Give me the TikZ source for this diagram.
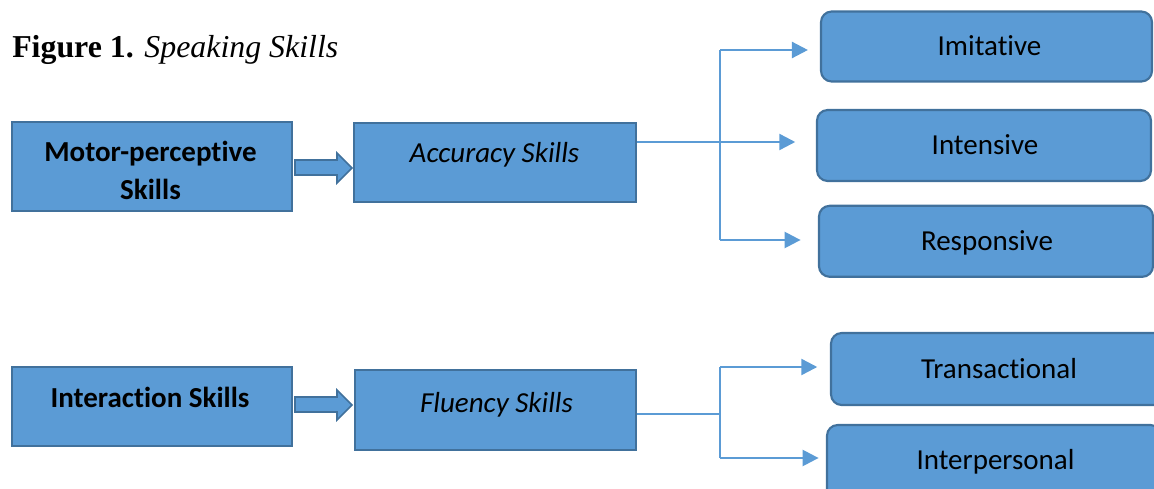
\documentclass[tikz,border=0pt]{standalone}
\usepackage{fontspec}
\setmainfont[Ligatures={NoCommon}]{Carlito}
\newfontfamily\timesf{Liberation Serif}
\usetikzlibrary{arrows.meta}
\definecolor{boxfill}{HTML}{5B9BD5}
\definecolor{boxline}{HTML}{41719C}
\begin{document}
\begin{tikzpicture}[x=0.75pt,y=-0.75pt,
 sqbox/.style={draw=boxline,fill=boxfill,line width=1.6pt,inner sep=0pt},
 rbox/.style={sqbox,rounded corners=8pt},
 lab/.style={font=\fontsize{21.75}{28.5}\selectfont,text=black,align=center,inner sep=0pt,text height=14pt,text depth=0pt},
 conn/.style={draw=boxfill,line width=1.8pt},
 tip/.style={-{Triangle[length=12pt,width=12pt]}},
 blockarrow/.style={draw=boxline,fill=boxfill,line width=1.2pt,line join=miter}]
\useasboundingbox (0,0) rectangle (1154,489);
\clip (0,0) rectangle (1154,489);

% title
\node[anchor=base west,inner sep=0pt,font=\timesf\fontsize{23.9}{28}\selectfont] (title) at (12,57) {\textbf{Figure 1.} \textit{Speaking Skills}};

% left boxes
\node[sqbox,minimum width=280*0.75pt,minimum height=89*0.75pt] (motor) at (152,166.5) {};
\node[lab,font=\fontsize{21.75}{28.5}\selectfont\bfseries,anchor=north,text height=42.5pt] (motorT) at (150.5,143) {Motor-perceptive\\Skills};
\node[sqbox,minimum width=282*0.75pt,minimum height=79*0.75pt] (acc) at (495,162.5) {};
\node[lab,font=\fontsize{21.75}{28.5}\selectfont\itshape] (accT) at (494.5,153) {Accuracy Skills};

\node[sqbox,minimum width=280*0.75pt,minimum height=79*0.75pt] (inter) at (152,406.5) {};
\node[lab,font=\fontsize{21.75}{28.5}\selectfont\bfseries] (interT) at (150,398) {Interaction Skills};
\node[sqbox,minimum width=281*0.75pt,minimum height=80*0.75pt] (flu) at (495.5,410) {};
\node[lab,font=\fontsize{21.75}{28.5}\selectfont\itshape] (fluT) at (496.5,403) {Fluency Skills};

% block arrows
\draw[blockarrow] (295,160) -- (337,160) -- (337,153) -- (352,168) -- (337,183) -- (337,175) -- (295,175) -- cycle;
\draw[blockarrow] (295,397) -- (337,397) -- (337,390) -- (352,405) -- (337,420) -- (337,412) -- (295,412) -- cycle;

% right boxes
\node[rbox,minimum width=331*0.75pt,minimum height=70*0.75pt] (imit) at (986.5,46.5) {};
\node[lab] (imitT) at (989.5,46) {Imitative};
\node[rbox,minimum width=334*0.75pt,minimum height=71*0.75pt] (inten) at (984,145.5) {};
\node[lab] (intenT) at (985,145) {Intensive};
\node[rbox,minimum width=334*0.75pt,minimum height=71*0.75pt] (resp) at (986,241.3) {};
\node[lab] (respT) at (987,241) {Responsive};
\node[rbox,minimum width=334*0.75pt,minimum height=72*0.75pt] (trans) at (998,369) {};
\node[lab] (transT) at (999,369) {Transactional};
\node[rbox,minimum width=334*0.75pt,minimum height=76*0.75pt] (interp) at (994,463) {};
\node[lab] (interpT) at (995.5,460) {Interpersonal};

% connectors (upper)
\coordinate (j1) at (720,142);
\coordinate (j1t) at (720,50);
\coordinate (j1b) at (720,240);
\draw[conn] (acc.east |- j1) -- (j1);
\draw[conn] (j1t) -- (j1b);
\draw[conn,tip,shorten >=9pt] (j1t) -- (imit.west |- j1t);
\draw[conn,tip,shorten >=15.5pt] (j1) -- (inten.west |- j1);
\draw[conn,tip,shorten >=13pt] (j1b) -- (resp.west |- j1b);

% connectors (lower)
\coordinate (j2) at (720,414);
\coordinate (j2t) at (720,367);
\coordinate (j2b) at (720,458);
\draw[conn] (flu.east |- j2) -- (j2);
\draw[conn] (j2t) -- (j2b);
\draw[conn,tip,shorten >=9.5pt] (j2t) -- (trans.west |- j2t);
\draw[conn,tip,shorten >=5.5pt] (j2b) -- (interp.west |- j2b);
\end{tikzpicture}
\end{document}
